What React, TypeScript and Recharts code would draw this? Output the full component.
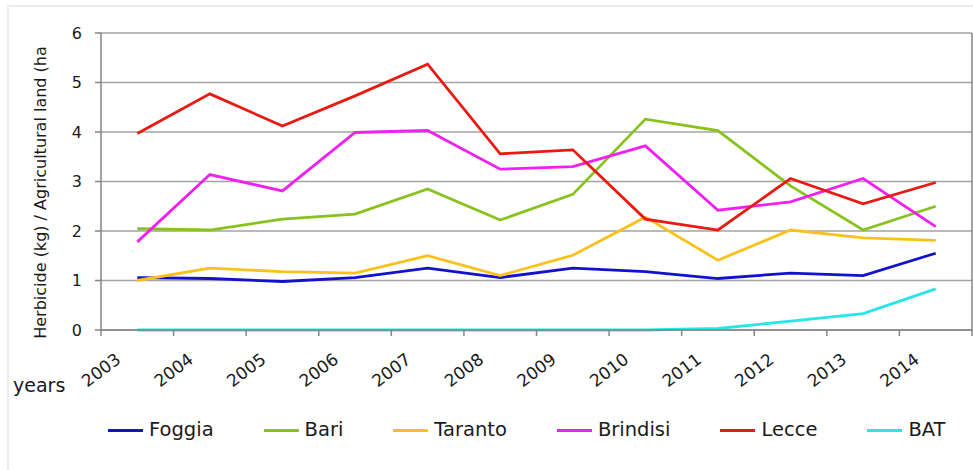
import React from 'react';
import { LineChart, Line, XAxis, YAxis, CartesianGrid, Legend, Label } from 'recharts';

const years = ['2003', '2004', '2005', '2006', '2007', '2008', '2009', '2010', '2011', '2012', '2013', '2014'];
const foggia = [1.06, 1.04, 0.98, 1.06, 1.25, 1.06, 1.25, 1.18, 1.04, 1.15, 1.1, 1.55];
const bari = [2.05, 2.02, 2.24, 2.34, 2.85, 2.22, 2.74, 4.26, 4.03, 2.91, 2.02, 2.5];
const taranto = [1.0, 1.25, 1.18, 1.15, 1.5, 1.1, 1.51, 2.28, 1.41, 2.02, 1.86, 1.81];
const brindisi = [1.78, 3.14, 2.81, 3.99, 4.03, 3.25, 3.3, 3.72, 2.42, 2.59, 3.06, 2.09];
const lecce = [3.97, 4.77, 4.12, 4.73, 5.37, 3.56, 3.64, 2.24, 2.02, 3.06, 2.55, 2.98];
const bat = [0, 0, 0, 0, 0, 0, 0, 0, 0.03, 0.18, 0.33, 0.83];
const yTicks = [0, 1, 2, 3, 4, 5, 6];

const seriesNames = ['Foggia', 'Bari', 'Taranto', 'Brindisi', 'Lecce', 'BAT'];
const seriesValues = [foggia, bari, taranto, brindisi, lecce, bat];
const seriesColors = ['#1212CC', '#88C21C', '#F9C21A', '#F020F0', '#E81A12', '#26E6E8'];

const yLabelText = 'Herbicide (kg) / Agricultural land (ha';
const xLabelText = 'years';

const data = years.map((year, i) => {
  const row: Record<string, string | number> = { year };
  seriesNames.forEach((name, s) => {
    row[name] = seriesValues[s][i];
  });
  return row;
});

const FONT = '"DejaVu Sans", sans-serif';
const HALF_BAND = 36.3;
const AXIS_COLOR = '#858585';

const XTick = (props: any) => {
  const { x, y, payload, index } = props;
  const bx = x - HALF_BAND;
  const cx = bx;
  const cy = y + 40;
  const isLast = index === years.length - 1;
  return (
    <g>
      <line x1={bx} x2={bx} y1={y} y2={y + 6} stroke={AXIS_COLOR} strokeWidth={1.5} />
      {isLast && <line x1={x + HALF_BAND} x2={x + HALF_BAND} y1={y} y2={y + 6} stroke={AXIS_COLOR} strokeWidth={1.5} />}
      <text
        x={cx}
        y={cy}
        textAnchor="middle"
        dominantBaseline="central"
        transform={`rotate(-37, ${cx}, ${cy})`}
        fontFamily={FONT}
        fontSize={17}
        fill="#1a1a1a"
      >
        {payload.value}
      </text>
    </g>
  );
};

const YLabel = (props: any) => {
  const { viewBox } = props;
  const cx = viewBox.x + 40;
  const cy = viewBox.y + viewBox.height / 2 + 11;
  return (
    <text
      x={cx}
      y={cy}
      textAnchor="middle"
      dominantBaseline="central"
      transform={`rotate(-90, ${cx}, ${cy})`}
      fontFamily={FONT}
      fontSize={16}
      fill="#1a1a1a"
    >
      {yLabelText}
    </text>
  );
};

const XLabel = (props: any) => {
  const { viewBox } = props;
  return (
    <text x={viewBox.x - 88} y={viewBox.y + 62} fontFamily={FONT} fontSize={19} fill="#1a1a1a">
      {xLabelText}
    </text>
  );
};

const LegendContent = () => (
  <div
    style={{
      height: 50,
      display: 'flex',
      alignItems: 'flex-start',
      paddingLeft: 108,
      fontFamily: FONT,
      fontSize: 19.5,
      color: '#1a1a1a',
      boxSizing: 'border-box',
    }}
  >
    {seriesNames.map((name, i) => (
      <div key={name} style={{ display: 'flex', alignItems: 'center', height: 20, marginRight: 50 }}>
        <span style={{ display: 'inline-block', width: 35, height: 3, background: seriesColors[i], marginRight: 6 }} />
        <span style={{ lineHeight: '20px' }}>{name}</span>
      </div>
    ))}
  </div>
);

export default function App() {
  return (
    <div style={{ position: 'absolute', left: 0, top: 0, width: 973, height: 470, background: '#fff' }}>
      <div
        style={{
          position: 'absolute',
          left: 7,
          top: 5,
          width: 980,
          height: 480,
          borderTop: '2px solid #ececec',
          borderLeft: '2px solid #ececec',
        }}
      />
      <div style={{ position: 'absolute', left: 0, top: 0 }}>
        <LineChart width={973} height={470} data={data} margin={{ top: 33, right: 0, left: 0, bottom: 0 }}>
          <CartesianGrid horizontal vertical={false} stroke="#a3a3a3" strokeWidth={1.5} />
          <XAxis
            dataKey="year"
            height={90}
            padding={{ left: HALF_BAND, right: HALF_BAND }}
            tickLine={false}
            tickSize={0}
            tickMargin={0}
            axisLine={{ stroke: AXIS_COLOR, strokeWidth: 1.5 }}
            tick={<XTick />}
            interval={0}
          >
            <Label content={<XLabel />} />
          </XAxis>
          <YAxis
            width={101}
            domain={[0, 6]}
            ticks={yTicks}
            interval={0}
            tickSize={6}
            tickMargin={13}
            axisLine={{ stroke: AXIS_COLOR, strokeWidth: 1.5 }}
            tickLine={{ stroke: AXIS_COLOR, strokeWidth: 1.5 }}
            tick={{ fontFamily: FONT, fontSize: 16, fill: '#1a1a1a' }}
          >
            <Label content={<YLabel />} />
          </YAxis>
          <YAxis
            yAxisId="right"
            orientation="right"
            width={1}
            domain={[0, 6]}
            tick={false}
            tickLine={false}
            axisLine={{ stroke: AXIS_COLOR, strokeWidth: 1.5 }}
          />
          <Legend verticalAlign="bottom" content={<LegendContent />} />
          {seriesNames.map((name, i) => (
            <Line
              key={name}
              type="linear"
              dataKey={name}
              stroke={seriesColors[i]}
              strokeWidth={2.8}
              dot={false}
              activeDot={false}
              isAnimationActive={false}
            />
          ))}
        </LineChart>
      </div>
    </div>
  );
}
